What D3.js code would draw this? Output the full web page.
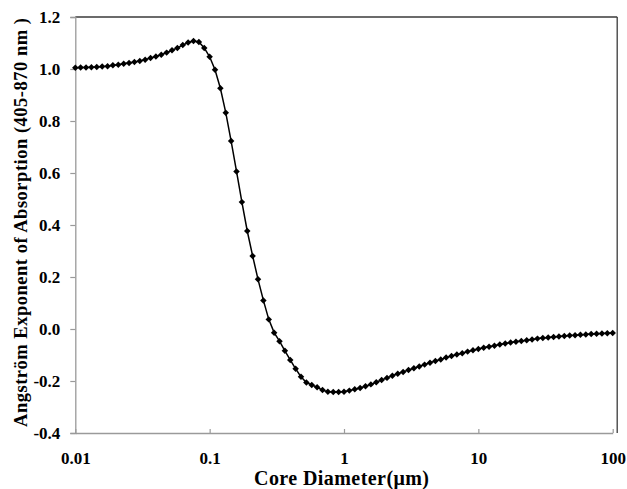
<!DOCTYPE html>
<html>
<head>
<meta charset="utf-8">
<script src="https://cdn.jsdelivr.net/npm/d3@7"></script>
<style>
  html, body { margin: 0; padding: 0; background: #fff; }
  svg { display: block; }
  text { font-family: "Liberation Serif", "Times New Roman", serif; font-weight: bold; fill: #000; }
</style>
</head>
<body>
<svg id="chart" width="627" height="489"></svg>
<script>
const diameter = [
  0.01,0.01096,0.01202,0.01318,0.01445,0.01585,0.01738,0.01905,0.02089,0.02291,0.02512,0.02754,0.03020,0.03311,0.03631,0.03981,0.04365,0.04786,0.05248,0.05754,0.06310,0.06918,0.07586,0.08318,0.09120,
  0.1,0.1096,0.1202,0.1318,0.1445,0.1585,0.1738,0.1905,0.2089,0.2291,0.2512,0.2754,0.3020,0.3311,0.3631,0.3981,0.4365,0.4786,0.5248,0.5754,0.6310,0.6918,0.7586,0.8318,0.9120,
  1,1.096,1.202,1.318,1.445,1.585,1.738,1.905,2.089,2.291,2.512,2.754,3.020,3.311,3.631,3.981,4.365,4.786,5.248,5.754,6.310,6.918,7.586,8.318,9.120,
  10,10.96,12.02,13.18,14.45,15.85,17.38,19.05,20.89,22.91,25.12,27.54,30.20,33.11,36.31,39.81,43.65,47.86,52.48,57.54,63.10,69.18,75.86,83.18,91.20,
  100
];
const angstrom = [
  1.005,1.006,1.006,1.007,1.008,1.010,1.011,1.014,1.016,1.020,1.023,1.027,1.031,1.036,1.042,1.048,1.055,1.063,1.072,1.081,1.092,1.102,1.108,1.104,1.081,
  1.047,0.997,0.926,0.832,0.723,0.606,0.488,0.377,0.281,0.191,0.110,0.037,-0.014,-0.047,-0.084,-0.119,-0.153,-0.184,-0.206,-0.215,-0.224,-0.235,-0.241,-0.242,-0.242,
  -0.241,-0.237,-0.232,-0.227,-0.220,-0.213,-0.205,-0.196,-0.188,-0.180,-0.172,-0.165,-0.158,-0.151,-0.144,-0.137,-0.130,-0.123,-0.117,-0.110,-0.104,-0.098,-0.093,-0.087,-0.082,
  -0.077,-0.072,-0.068,-0.064,-0.060,-0.056,-0.052,-0.049,-0.046,-0.043,-0.040,-0.037,-0.035,-0.033,-0.031,-0.029,-0.027,-0.025,-0.024,-0.022,-0.021,-0.019,-0.018,-0.017,-0.016,-0.015
];
const xTicks = [0.01, 0.1, 1, 10, 100];
const xTickLabels = ["0.01", "0.1", "1", "10", "100"];
const yTicks = [-0.4, -0.2, 0.0, 0.2, 0.4, 0.6, 0.8, 1.0, 1.2];
const yTickLabels = ["-0.4", "-0.2", "0.0", "0.2", "0.4", "0.6", "0.8", "1.0", "1.2"];
const xTitle = "Core Diameter(\u03bcm)";
const yTitle = "Angstr\u00f6m Exponent of Absorption (405-870 nm )";

const data = diameter.map((d, i) => ({ d, v: angstrom[i] }));

const svg = d3.select("#chart");
const mLeft = 75.3, mRight = 612.7, mTop = 17, mBottom = 433;
const x = d3.scaleLog().domain([0.01, 100]).range([mLeft, mRight]);
const y = d3.scaleLinear().domain([-0.4, 1.2]).range([mBottom, mTop]);

// frame: top and right borders dark
svg.append("line").attr("x1", mLeft).attr("x2", mRight + 4.5).attr("y1", mTop).attr("y2", mTop)
  .attr("stroke", "#3a3a3a").attr("stroke-width", 1.3);
svg.append("line").attr("x1", mRight + 4.5).attr("x2", mRight + 4.5).attr("y1", mTop).attr("y2", mBottom)
  .attr("stroke", "#3a3a3a").attr("stroke-width", 1.3);

// y axis
const yAxis = svg.append("g").attr("transform", `translate(${mLeft},0)`)
  .call(d3.axisLeft(y).tickValues(yTicks).tickFormat((d, i) => yTickLabels[i]).tickSize(5).tickPadding(10));
yAxis.select(".domain").attr("stroke", "#9a9a9a").attr("stroke-width", 1.3);
yAxis.selectAll(".tick line").attr("stroke", "#9a9a9a").attr("stroke-width", 1.2);
yAxis.selectAll(".tick text").attr("font-size", 17).attr("font-family", "Liberation Serif").attr("font-weight", "bold").attr("fill", "#000");

// x axis
const xAxis = svg.append("g").attr("transform", `translate(0,${mBottom})`)
  .call(d3.axisBottom(x).tickValues(xTicks).tickFormat((d, i) => xTickLabels[i]).tickSizeInner(-4).tickSizeOuter(0).tickPadding(19));
xAxis.select(".domain").attr("stroke", "#9a9a9a").attr("stroke-width", 1.3);
xAxis.selectAll(".tick line").attr("stroke", "#9a9a9a").attr("stroke-width", 1.2);
xAxis.selectAll(".tick text").attr("font-size", 17).attr("font-family", "Liberation Serif").attr("font-weight", "bold").attr("fill", "#000");

// line
const line = d3.line().x(p => x(p.d)).y(p => y(p.v));
svg.append("path").datum(data).attr("d", line)
  .attr("fill", "none").attr("stroke", "#000").attr("stroke-width", 1.5);

// markers
const diamond = d3.symbol().type(d3.symbolSquare).size(21);
svg.append("g").selectAll("path").data(data).join("path")
  .attr("d", diamond)
  .attr("transform", p => `translate(${x(p.d)},${y(p.v)}) rotate(45)`)
  .attr("fill", "#000");

// titles
svg.append("text").attr("x", 341.5).attr("y", 485)
  .attr("text-anchor", "middle").attr("font-size", 20)
  .attr("textLength", 175).attr("lengthAdjust", "spacing").text(xTitle);
svg.append("text").attr("transform", `translate(27,222.5) rotate(-90)`)
  .attr("text-anchor", "middle").attr("font-size", 18.5)
  .attr("textLength", 409).attr("lengthAdjust", "spacing").text(yTitle);
</script>
</body>
</html>
